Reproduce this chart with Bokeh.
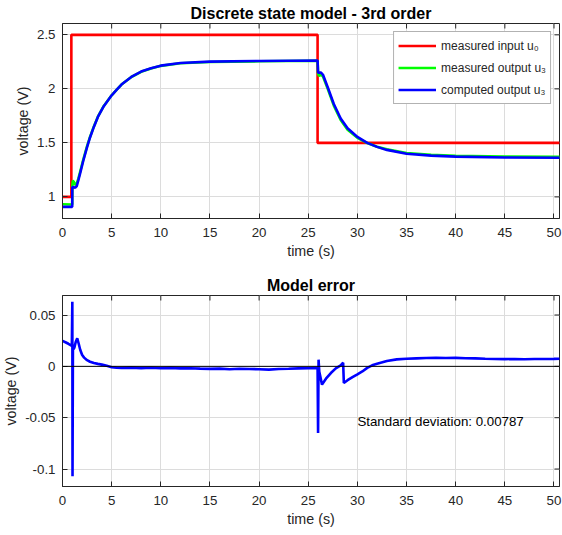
import math
from bokeh.plotting import figure
from bokeh.layouts import column
from bokeh.models import Range1d, FixedTicker, Span, Label, Legend, LegendItem
from bokeh.embed import file_html
from bokeh.resources import INLINE

FONT = "Liberation Sans"
AX_COL = "#262626"
GRID_COL = "#dcdcdc"

# ---------------- data ----------------
x_ticks = [0, 5, 10, 15, 20, 25, 30, 35, 40, 45, 50]
x_tick_labels = ["0", "5", "10", "15", "20", "25", "30", "35", "40", "45", "50"]
top_y_ticks = [1, 1.5, 2, 2.5]
top_y_labels = ["1", "1.5", "2", "2.5"]
err_y_ticks = [-0.1, -0.05, 0, 0.05]
err_y_labels = ["-0.1", "-0.05", "0", "0.05"]

# measured input u0
t_in = [0, 0.9, 0.9, 25.95, 25.95, 50.6]
u0 = [1.0, 1.0, 2.5, 2.5, 1.5, 1.5]

# output time base
t_out = [0, 0.99, 1.0, 1.05, 1.15, 1.3, 1.45, 1.6, 1.8, 2.1, 2.5, 2.8, 3.2, 3.6,
         4.2, 5, 5.5, 6, 7, 8, 9, 10, 12, 15, 20, 25.95, 26.0, 26.1, 26.3, 26.5,
         27, 27.6, 28.3, 29, 30, 31, 32, 33, 35, 37.5, 40, 45, 50.6]
# measured output u3 (green)
u3_meas = [0.932, 0.93, 1.10, 1.15, 1.14, 1.11, 1.125, 1.165, 1.235, 1.34, 1.47, 1.555,
           1.655, 1.742, 1.842, 1.94, 1.99, 2.04, 2.11, 2.158, 2.188, 2.213, 2.237,
           2.249, 2.255, 2.26, 2.14, 2.12, 2.13, 2.115, 1.995, 1.845, 1.712, 1.622,
           1.547, 1.498, 1.465, 1.44, 1.407, 1.39, 1.381, 1.373, 1.37]
# computed output u3 (blue)
u3_comp = [0.908, 0.908, 1.09, 1.09, 1.09, 1.085, 1.10, 1.15, 1.22, 1.33, 1.46, 1.55,
           1.65, 1.74, 1.84, 1.94, 1.99, 2.04, 2.11, 2.16, 2.19, 2.215, 2.24, 2.252,
           2.258, 2.262, 2.15, 2.15, 2.15, 2.13, 2.01, 1.86, 1.725, 1.635, 1.555,
           1.50, 1.463, 1.435, 1.40, 1.382, 1.373, 1.365, 1.362]

# model error
t_err = [0, 0.3, 0.6, 0.95, 1.0, 1.02, 1.06, 1.2, 1.35, 1.5, 1.65, 1.8, 2.0, 2.2,
         2.5, 2.8, 3.2, 3.6, 4.0, 4.5, 5, 5.5, 6, 7, 8, 9, 10, 11, 12, 13, 14, 15,
         16, 17, 18, 19, 20, 21, 22, 23, 24, 25, 25.95, 26.0, 26.05, 26.12, 26.4,
         26.8, 27.3, 27.8, 28.3, 28.55, 28.62, 29, 29.5, 30, 30.5, 31, 31.5, 32, 33,
         34, 35, 36, 37, 38, 39, 40, 41, 42, 43, 44, 45, 46, 47, 48, 49, 50, 50.6]
err = [0.0248, 0.0235, 0.022, 0.020, 0.063, -0.107, 0.016, 0.018, 0.024, 0.0273,
       0.022, 0.0162, 0.011, 0.0085, 0.006, 0.0045, 0.0032, 0.0024, 0.0017, 0.0005,
       -0.0008, -0.0014, -0.0016, -0.0012, -0.0017, -0.0014, -0.0018, -0.0015,
       -0.002, -0.0018, -0.0022, -0.0025, -0.0022, -0.0028, -0.0024, -0.0026,
       -0.0028, -0.0032, -0.0026, -0.0024, -0.002, -0.0018, -0.0015, -0.065,
       0.0065, -0.005, -0.0178, -0.012, -0.0065, -0.002, 0.001, 0.0035, -0.0162,
       -0.0135, -0.0105, -0.0078, -0.005, -0.0015, 0.001, 0.0025, 0.0052, 0.0068,
       0.0074, 0.0078, 0.0082, 0.0084, 0.0081, 0.0083, 0.0079, 0.0078, 0.0074,
       0.0072, 0.0070, 0.0072, 0.0069, 0.0071, 0.0072, 0.0073, 0.0074]
std_dev = 0.00787

X_RANGE = (0, 50.56)
TOP_Y_RANGE = (0.8, 2.605)
ERR_Y_RANGE = (-0.117, 0.069)

W = 562


def style_axis(ax, ticks, labels):
    ax.ticker = FixedTicker(ticks=ticks)
    ax.major_label_overrides = {t: l for t, l in zip(ticks, labels)}
    ax.major_tick_in = 5
    ax.major_tick_out = 0
    ax.minor_tick_line_color = None
    ax.axis_line_color = AX_COL
    ax.major_tick_line_color = AX_COL
    ax.major_label_text_color = AX_COL
    ax.major_label_text_font = FONT
    ax.major_label_text_font_size = "13.3px"
    ax.axis_label_text_font = FONT
    ax.axis_label_text_font_size = "14.3px"
    ax.axis_label_text_font_style = "normal"
    ax.axis_label_text_color = AX_COL


def make_fig(title, height, yr, yticks, ylabels, top_border, bottom_border):
    p = figure(width=W, height=height, output_backend="svg", toolbar_location=None,
               x_range=Range1d(*X_RANGE), y_range=Range1d(*yr),
               min_border_left=61, min_border_right=3,
               min_border_top=top_border, min_border_bottom=bottom_border)
    p.title.text = title
    p.title.text_font = FONT
    p.title.text_font_size = "16px"
    p.title.text_font_style = "bold"
    p.title.text_color = "black"
    p.title.align = "center"
    p.title.standoff = 3
    p.outline_line_color = AX_COL
    p.outline_line_width = 1
    style_axis(p.xaxis[0], x_ticks, x_tick_labels)
    style_axis(p.yaxis[0], yticks, ylabels)
    p.xaxis[0].axis_label = "time (s)"
    p.yaxis[0].axis_label = "voltage (V)"
    p.xaxis[0].major_label_standoff = 9
    p.xaxis[0].axis_label_standoff = 3
    p.yaxis[0].major_label_standoff = 7
    p.yaxis[0].axis_label_standoff = 3
    p.xgrid.ticker = FixedTicker(ticks=x_ticks)
    p.ygrid.ticker = FixedTicker(ticks=yticks)
    p.grid.grid_line_color = GRID_COL
    p.grid.grid_line_width = 1
    p.background_fill_color = "white"
    p.border_fill_color = "white"
    # inward ticks on the top and right edges of the box (half of each dash is clipped)
    p.scatter(x_ticks, [yr[1]] * len(x_ticks), marker="dash", size=10,
              angle=math.pi / 2, line_color=AX_COL, line_width=1)
    p.scatter([X_RANGE[1]] * len(yticks), yticks, marker="dash", size=10,
              line_color=AX_COL, line_width=1)
    return p


# ---------------- top figure ----------------
p1 = make_fig("Discrete state model - 3rd order", 268, TOP_Y_RANGE,
              top_y_ticks, top_y_labels, 23, 50)
r_in = p1.line(t_in, u0, line_color="#ff0000", line_width=2.6)
r_meas = p1.line(t_out, u3_meas, line_color="#00ff00", line_width=2.6)
r_comp = p1.line(t_out, u3_comp, line_color="#0000ff", line_width=2.6)

legend = Legend(items=[
    LegendItem(label="measured input u\u2080", renderers=[r_in]),
    LegendItem(label="measured output u\u2083", renderers=[r_meas]),
    LegendItem(label="computed output u\u2083", renderers=[r_comp]),
], location="top_right")
legend.margin = 8
legend.padding = 4
legend.spacing = 3
legend.glyph_width = 38
legend.glyph_height = 19
legend.label_height = 19
legend.label_standoff = 5
legend.label_text_font = FONT
legend.label_text_font_size = "12px"
legend.label_text_color = AX_COL
legend.border_line_color = "#666666"
legend.border_line_width = 1
legend.background_fill_color = "white"
legend.background_fill_alpha = 1
p1.add_layout(legend, "center")

# ---------------- bottom figure ----------------
p2 = make_fig("Model error", 267, ERR_Y_RANGE, err_y_ticks, err_y_labels, 27, 49)
p2.add_layout(Span(location=0, dimension="width", line_color="black", line_width=1))
p2.line(t_err, err, line_color="#0000ff", line_width=2.6)
p2.add_layout(Label(x=30, y=-0.054, text="Standard deviation: %g" % std_dev,
                    text_font=FONT, text_font_size="13.3px", text_color="black",
                    text_baseline="middle", text_align="left"))

layout = column(p1, p2, spacing=0)
open("out.html", "w").write(file_html(layout, INLINE))
